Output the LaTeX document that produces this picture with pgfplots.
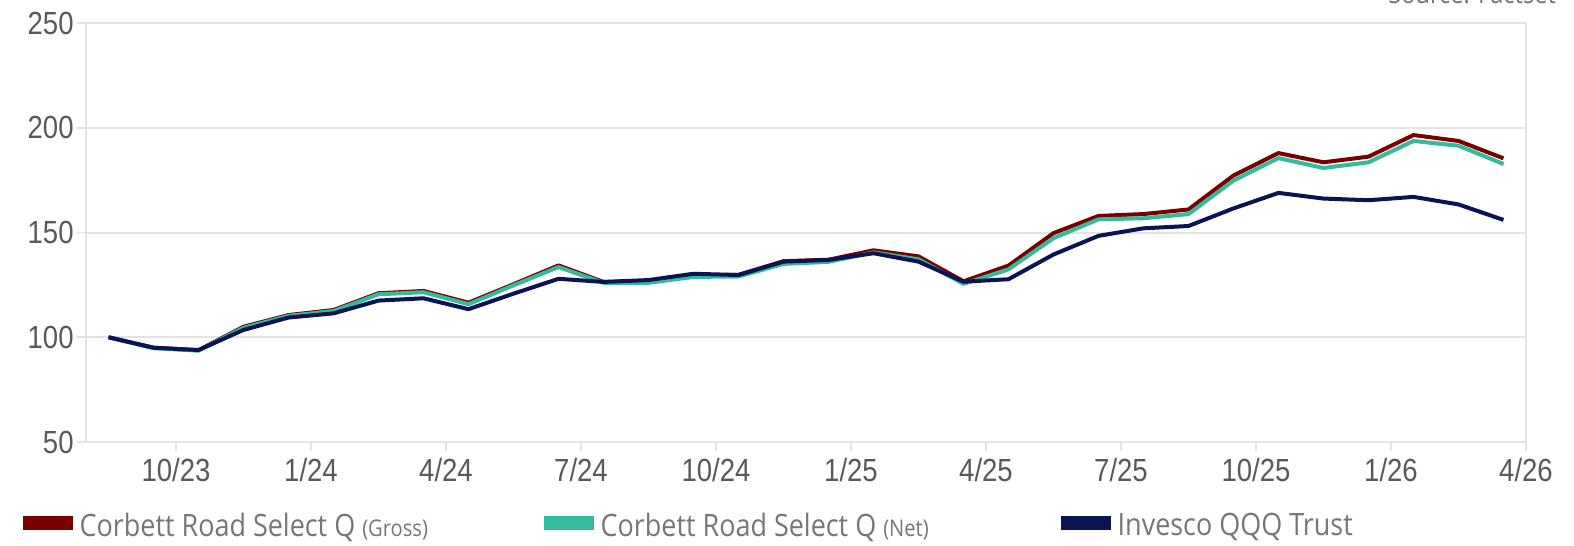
\documentclass[border=0pt]{standalone}
\usepackage{fontspec}
\setmainfont{Liberation Sans}
\newfontfamily\tickfont{Liberation Sans}[FakeStretch=0.86]
\newfontfamily\legfont{Open Sans}[FakeStretch=0.875]
\usepackage{pgfplots}
\pgfplotsset{compat=1.18}
\definecolor{gross}{RGB}{120,0,0}
\definecolor{net}{RGB}{51,187,154}
\definecolor{qqq}{RGB}{11,20,82}
\definecolor{gridgray}{RGB}{227,227,227}
\definecolor{ticklab}{RGB}{89,89,89}
\definecolor{legtext}{RGB}{118,118,118}
\begin{document}
\begin{tikzpicture}
\path[use as bounding box] (-43pt,-52pt) rectangle (744pt,221pt);
\begin{axis}[
  at={(0pt,0pt)}, anchor=south west,
  scale only axis, width=720pt, height=209.5pt,
  xmin=0, xmax=32, ymin=50, ymax=250,
  xtick={2,5,8,11,14,17,20,23,26,29,32},
  xticklabels={10/23,1/24,4/24,7/24,10/24,1/25,4/25,7/25,10/25,1/26,4/26},
  ytick={50,100,150,200,250},
  ymajorgrids,
  major grid style={color=gridgray, line width=1pt},
  axis line style={color=gridgray, line width=1pt},
  tick align=outside, xtick pos=bottom, ytick pos=left,
  major tick length=4.5pt,
  major tick style={color=gridgray, line width=0.8pt},
  tick label style={font=\tickfont\fontsize{16}{18}\selectfont, text=ticklab},
  /pgf/number format/assume math mode=true,
  yticklabel style={inner sep=1.5pt},
  xticklabel style={inner sep=3.5pt},
  no markers,
  legend columns=3,
  legend cell align=left,
  legend style={at={(-0.04396,-0.2005)}, anchor=west, draw=none, fill=none,
    inner sep=0pt, outer sep=0pt,
    font=\legfont\fontsize{15.4}{18}\selectfont, text=legtext,
    nodes={inner sep=0pt},
    /tikz/every odd column/.append style={column sep=0pt},
    /tikz/every even column/.append style={column sep=0pt}},
  legend image code/.code={\fill[#1, line join=miter] (0pt,-1pt) rectangle (23pt,4pt); \path (26.5pt,0pt);},
]
\addplot[gross, line width=2pt, line join=round] coordinates {
(0.5,100) (1.5,95.0) (2.5,93.8) (3.5,105) (4.5,110.6) (5.5,113) (6.5,121) (7.5,122.1)
(8.5,116.5) (9.5,125.3) (10.5,134.3) (11.5,126.4) (12.5,126.7) (13.5,129.5) (14.5,129.8)
(15.5,136.3) (16.5,137) (17.5,141.5) (18.5,138.6) (19.5,126.7) (20.5,134.2) (21.5,149.7)
(22.5,157.9) (23.5,158.8) (24.5,161) (25.5,177.2) (26.5,187.9) (27.5,183.5) (28.5,186.2)
(29.5,196.5) (30.5,193.7) (31.5,185.4)};
\addlegendentry{\makebox[232pt][l]{Corbett Road Select Q {\fontsize{11.5}{14}\selectfont(Gross)}}}
\addplot[net, line width=2pt, line join=round] coordinates {
(0.5,100) (1.5,94.8) (2.5,93.6) (3.5,104.5) (4.5,110.2) (5.5,112.5) (6.5,120.5) (7.5,121.5)
(8.5,115.8) (9.5,124.8) (10.5,133.5) (11.5,126.0) (12.5,126.0) (13.5,128.8) (14.5,129.0)
(15.5,135.0) (16.5,136.0) (17.5,140.5) (18.5,137.2) (19.5,125.5) (20.5,132.4) (21.5,147.3)
(22.5,156.3) (23.5,156.8) (24.5,158.8) (25.5,174.8) (26.5,185.5) (27.5,180.8) (28.5,183.5)
(29.5,193.7) (30.5,191.4) (31.5,182.7)};
\addlegendentry{\makebox[230pt][l]{Corbett Road Select Q {\fontsize{11.5}{14}\selectfont(Net)}}}
\addplot[qqq, line width=2pt, line join=round] coordinates {
(0.5,100) (1.5,95.0) (2.5,93.9) (3.5,103.5) (4.5,109.4) (5.5,111.4) (6.5,117.5) (7.5,118.6)
(8.5,113.4) (9.5,120.8) (10.5,127.9) (11.5,126.4) (12.5,127.3) (13.5,130.3) (14.5,129.7)
(15.5,136.1) (16.5,136.9) (17.5,140.1) (18.5,136.1) (19.5,126.5) (20.5,127.7) (21.5,139.5)
(22.5,148.4) (23.5,152.0) (24.5,153.1) (25.5,161.5) (26.5,168.9) (27.5,166.2) (28.5,165.4)
(29.5,167.0) (30.5,163.4) (31.5,156.0)};
\addlegendentry{Invesco QQQ Trust}
\end{axis}
\node[overlay, anchor=base east, font=\legfont\fontsize{13.5}{16}\selectfont, text=legtext]
  at (738.5pt,219pt) {Source: Factset};
\end{tikzpicture}
\end{document}
